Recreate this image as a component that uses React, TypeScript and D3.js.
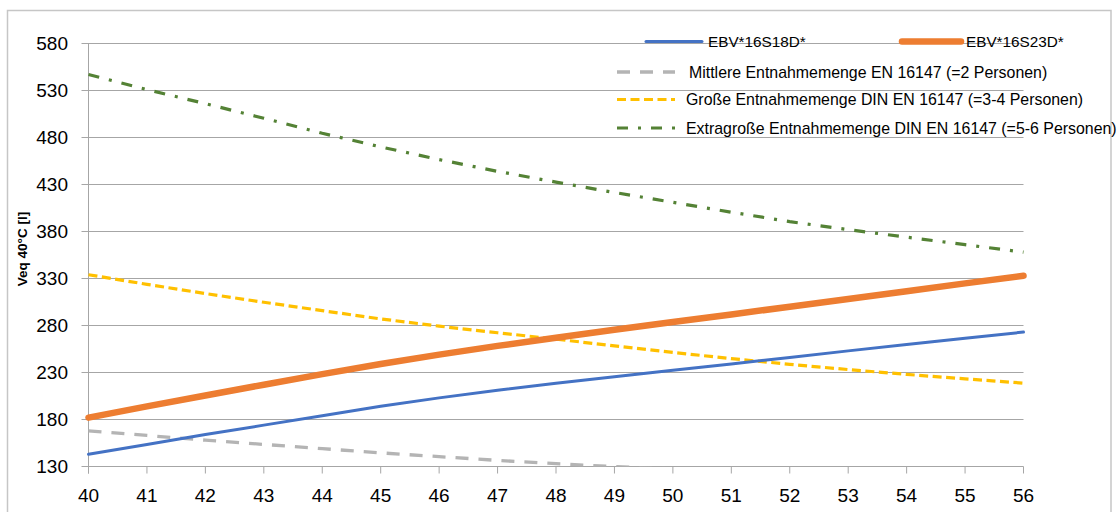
import React from "react";
import * as d3 from "d3";

const temps = [40, 41, 42, 43, 44, 45, 46, 47, 48, 49, 50, 51, 52, 53, 54, 55, 56];
const ebv18 = [143, 153.5, 164, 174, 184, 194, 203, 211, 218.5, 225.5, 232.3, 239, 246, 253, 259.7, 266.5, 273];
const ebv23 = [182, 194, 205.5, 217, 228.3, 239, 249, 258.3, 267, 275.5, 283.7, 291.8, 300, 308.2, 316.5, 324.8, 333];
const mittlere = [168, 163, 158, 153.5, 149, 144.5, 140.5, 136.5, 133, 129.8, 127.5];
const gross = [334, 323.8, 314, 304.7, 295.8, 287, 279.3, 272.3, 265.5, 258.3, 251.3, 244.8, 238.7, 233.1, 228, 223.2, 218.7];
const extragross = [547, 531, 516, 500.5, 484.5, 470, 456.5, 444, 432.5, 421.5, 411, 400.5, 390.5, 382, 374, 366, 358];
const yTicks = [130, 180, 230, 280, 330, 380, 430, 480, 530, 580];
const yTitle = "Veq 40°C [l]";

const seriesNames = [
  "EBV*16S18D*",
  "EBV*16S23D*",
  "Mittlere Entnahmemenge EN 16147 (=2 Personen)",
  "Große Entnahmemenge DIN EN 16147 (=3-4 Personen)",
  "Extragroße Entnahmemenge DIN EN 16147 (=5-6 Personen)",
];

const FONT = "'Liberation Sans', Arial, sans-serif";

export default function App() {
  const x = d3.scaleLinear().domain([40, 56]).range([88.5, 1023.5]);
  const y = d3.scaleLinear().domain([130, 580]).range([466.5, 43.5]);
  const line = d3
    .line<[number, number]>()
    .x((d) => x(d[0]))
    .y((d) => y(d[1]));
  const pts = (vals: number[]) => vals.map((v, i) => [temps[i], v] as [number, number]);

  const series = [
    { name: seriesNames[0], vals: ebv18, color: "#4472C4", width: 3, dash: undefined, cap: "round" },
    { name: seriesNames[1], vals: ebv23, color: "#ED7D31", width: 6.5, dash: undefined, cap: "round" },
    { name: seriesNames[2], vals: mittlere, color: "#B4B4B4", width: 3.3, dash: "13,10", cap: "butt" },
    { name: seriesNames[3], vals: gross, color: "#FFC000", width: 3.2, dash: "9,4.5", cap: "butt" },
    { name: seriesNames[4], vals: extragross, color: "#548235", width: 3.2, dash: "11,10,3,10", cap: "butt" },
  ];
  const drawOrder = [4, 3, 2, 0, 1];

  const legend = [
    { s: 0, x1: 646, x2: 702, ty: 41.5, tx: 708, fs: 15.3 },
    { s: 1, x1: 902, x2: 961, ty: 41.5, tx: 966, fs: 15.3 },
    { s: 2, x1: 617, x2: 675, ty: 72, tx: 689, fs: 15.9 },
    { s: 3, x1: 617, x2: 675, ty: 99.5, tx: 686, fs: 15.9 },
    { s: 4, x1: 617, x2: 675, ty: 128, tx: 686, fs: 15.9 },
  ];

  return (
    <svg
      width={1118}
      height={512}
      style={{ position: "absolute", left: 0, top: 0, background: "#fff" }}
      fontFamily={FONT}
    >
      <rect x={0} y={0} width={1118} height={512} fill="#fff" />
      <defs>
        <clipPath id="plotClip">
          <rect x={60} y={20} width={1000} height={466.5 - 20} />
        </clipPath>
      </defs>
      {/* frame */}
      <path d="M7.5,520 V10.5 H1111 V520" fill="none" stroke="#c6c6c6" strokeWidth={1.5} />

      {/* gridlines */}
      {yTicks.map((t) => (
        <line key={"g" + t} x1={x(40) - 7} x2={x(56)} y1={y(t)} y2={y(t)} stroke="#a6a6a6" strokeWidth={1} />
      ))}
      {/* y axis */}
      <line x1={x(40)} x2={x(40)} y1={y(580)} y2={y(130) + 7} stroke="#a6a6a6" strokeWidth={1} />
      {/* x ticks */}
      {temps.map((t) => (
        <line key={"xt" + t} x1={x(t)} x2={x(t)} y1={y(130)} y2={y(130) + 7} stroke="#a6a6a6" strokeWidth={1} />
      ))}
      {/* y labels */}
      {yTicks.map((t) => (
        <text key={"yl" + t} x={68} y={y(t)} dy="0.36em" textAnchor="end" fontSize={19} fill="#000">
          {t}
        </text>
      ))}
      {/* x labels */}
      {temps.map((t) => (
        <text key={"xl" + t} x={x(t)} y={501.5} textAnchor="middle" fontSize={19} fill="#000">
          {t}
        </text>
      ))}
      {/* y title */}
      <text
        transform={`translate(27,249) rotate(-90)`}
        textAnchor="middle"
        fontSize={13.5}
        fontWeight="bold"
        fill="#000"
      >
        {yTitle}
      </text>

      {/* series */}
      <g clipPath="url(#plotClip)">
        {drawOrder.map((i) => {
          const s = series[i];
          return (
            <path
              key={"s" + i}
              d={line(pts(s.vals)) || ""}
              fill="none"
              stroke={s.color}
              strokeWidth={s.width}
              strokeDasharray={s.dash}
              strokeLinecap={s.cap as any}
              strokeLinejoin="round"
            />
          );
        })}
      </g>

      {/* legend */}
      {legend.map((l) => {
        const s = series[l.s];
        return (
          <g key={"lg" + l.s}>
            <line
              x1={l.x1}
              x2={l.x2}
              y1={l.ty}
              y2={l.ty}
              stroke={s.color}
              strokeWidth={s.width}
              strokeDasharray={s.dash}
              strokeLinecap={s.cap as any}
            />
            <text x={l.tx} y={l.ty} dy="0.36em" fontSize={l.fs} fill="#000">
              {s.name}
            </text>
          </g>
        );
      })}
    </svg>
  );
}
